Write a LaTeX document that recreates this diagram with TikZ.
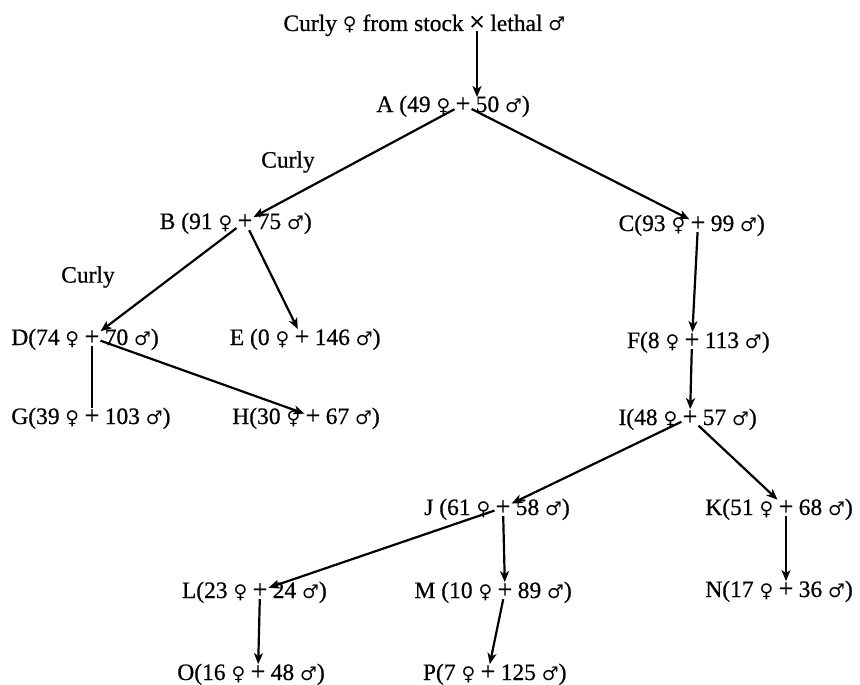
\documentclass[tikz,border=0pt]{standalone}
\usepackage{fontspec}
\setmainfont{Liberation Serif}[FakeBold=0.6]
\newfontfamily\symf{DejaVu Sans}[Scale=0.8]
\usetikzlibrary{arrows.meta}
\newcommand\fem{{\symf ♀}}
\newcommand\mal{{\symf ♂}}
\newcommand\famnode[5]{%
  \node[pl] (#1) at (#4,{#5+7}) {+};
  \node[lt] (#1l) at ([xshift=-4pt]#1.base west) {#2};
  \node[rt] (#1r) at ([xshift=4pt]#1.base east) {#3};}
\begin{document}
\begin{tikzpicture}[x=1pt,y=-1pt,
  every node/.style={font=\fontsize{23.5}{26}\selectfont, inner sep=0pt},
  lt/.style={anchor=base east},
  rt/.style={anchor=base west},
  pl/.style={anchor=base, inner sep=1pt, font=\fontsize{26}{26}\selectfont},
  arr/.style={line width=2.2pt, -{Stealth[length=11pt,width=9pt,inset=3pt]}},
  ln/.style={line width=2.2pt}]
\useasboundingbox (0,0) rectangle (860,685);

% top cross
\node[anchor=base] (cross) at (477,31) {\fontsize{28}{28}\selectfont ×};
\node[lt] (topl) at ([xshift=-5pt]cross.base west) {Curly \fem{} from stock};
\node[rt] (topr) at ([xshift=5pt]cross.base east) {lethal \mal};
\coordinate (Atop) at (477,97);

\famnode{A}{A (49 \fem}{50 \mal)}{463}{105}
\famnode{B}{B (91 \fem}{75 \mal)}{245}{222}
\famnode{C}{C(93 \fem}{99 \mal)}{698}{224}
\famnode{D}{D(74 \fem}{70 \mal)}{92}{338}
\famnode{E}{E (0 \fem}{146 \mal)}{302}{338}
\famnode{F}{F(8 \fem}{113 \mal)}{692}{341}
\famnode{G}{G(39 \fem}{103 \mal)}{92}{417}
\famnode{H}{H(30 \fem}{67 \mal)}{313}{417}
\famnode{I}{I(48 \fem}{57 \mal)}{690}{418}
\famnode{J}{J (61 \fem}{58 \mal)}{503}{508}
\famnode{K}{K(51 \fem}{68 \mal)}{786}{508}
\famnode{L}{L(23 \fem}{24 \mal)}{260}{591}
\famnode{M}{M (10 \fem}{89 \mal)}{505}{591}
\famnode{N}{N(17 \fem}{36 \mal)}{786}{590}
\famnode{O}{O(16 \fem}{48 \mal)}{258}{673}
\famnode{P}{P(7 \fem}{125 \mal)}{488}{673}

\node (curly1) at (288,162) {Curly};
\node (curly2) at (88,277) {Curly};

\draw[arr] (cross) -- (Atop);
\draw[arr] (A) -- (B);
\draw[arr] (A) -- (C);
\draw[arr] (B) -- (D);
\draw[arr] (B) -- (E);
\draw[arr] (C) -- (F);
\draw[ln]  (D) -- (G);
\draw[arr] (D) -- (H);
\draw[arr] (F) -- (I);
\draw[arr] (I) -- (J);
\draw[arr] (I) -- (K);
\draw[arr] (J) -- (L);
\draw[arr] (J) -- (M);
\draw[arr] (K) -- (N);
\draw[arr] (L) -- (O);
\draw[arr] (M) -- (P);
\end{tikzpicture}
\end{document}
